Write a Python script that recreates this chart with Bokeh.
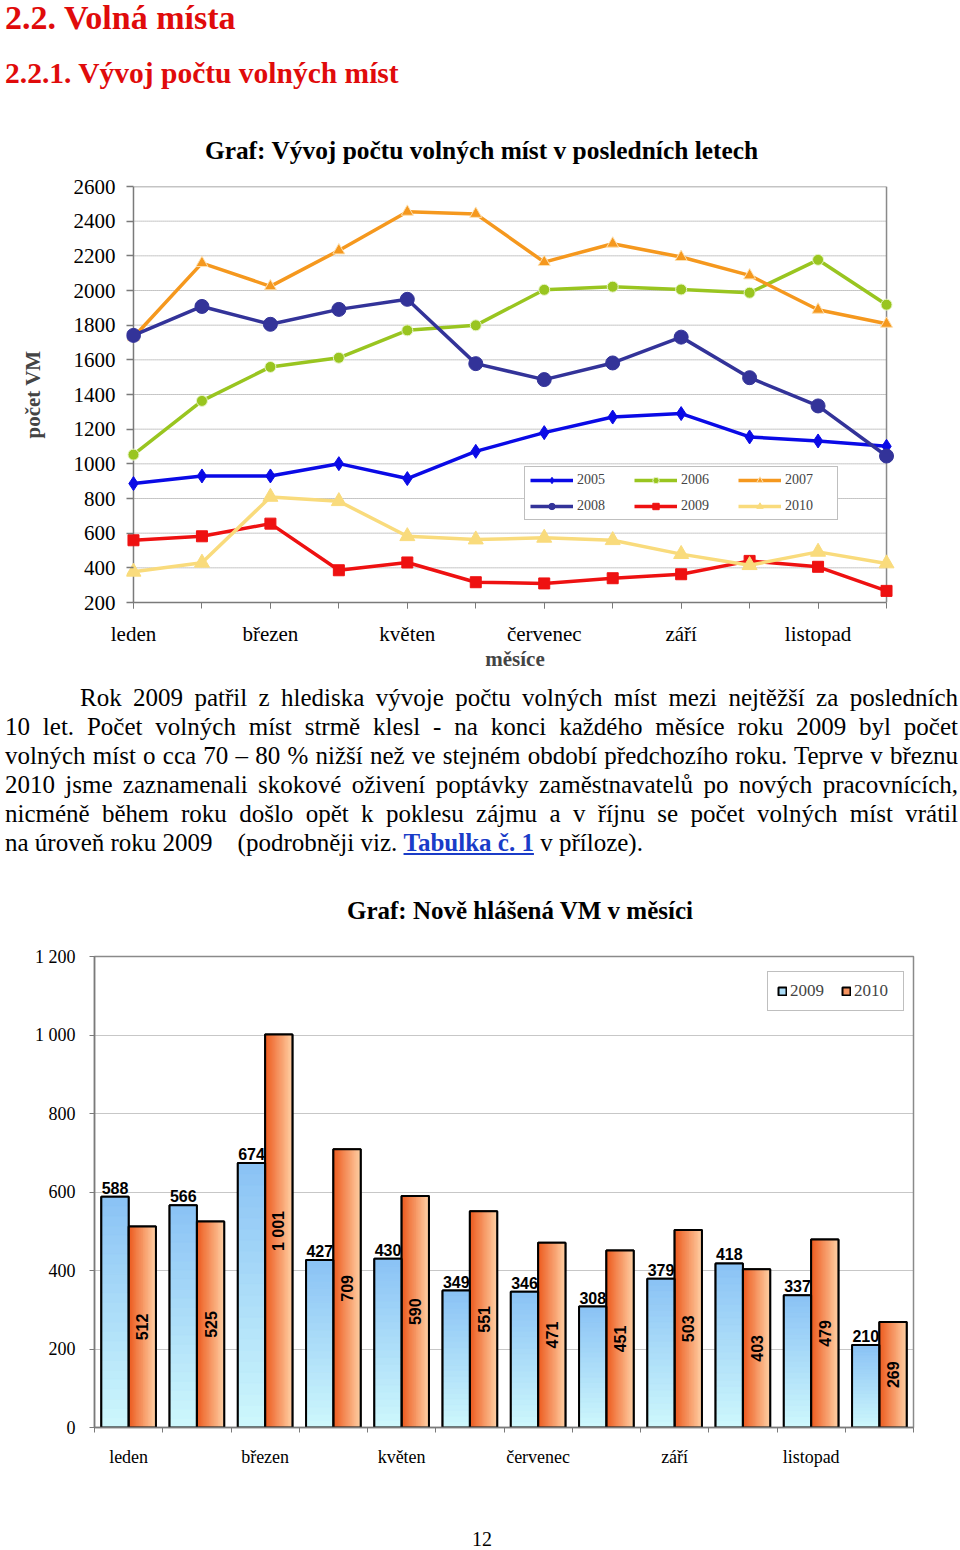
import numpy as np
from bokeh.plotting import figure
from bokeh.models import Range1d, FixedTicker, Legend, LegendItem, Div
from bokeh.layouts import column
from bokeh.core.properties import value
from bokeh.embed import file_html
from bokeh.resources import INLINE

# ---------------- data ----------------
months = ["leden", "únor", "březen", "duben", "květen", "červen",
          "červenec", "srpen", "září", "říjen", "listopad", "prosinec"]

y2005 = [886, 930, 930, 1001, 915, 1072, 1180, 1270, 1290, 1155, 1132, 1101]
y2006 = [1053, 1363, 1559, 1612, 1770, 1799, 2004, 2022, 2006, 1987, 2177, 1918]
y2007 = [1730, 2158, 2024, 2231, 2454, 2442, 2164, 2270, 2193, 2087, 1889, 1808]
y2008 = [1741, 1908, 1805, 1891, 1949, 1578, 1486, 1582, 1731, 1497, 1334, 1045]
y2009 = [559, 582, 655, 386, 431, 317, 310, 340, 363, 440, 406, 267]
y2010 = [377, 429, 809, 784, 582, 563, 573, 559, 479, 415, 492, 425]
line_ticks = [200, 400, 600, 800, 1000, 1200, 1400, 1600, 1800, 2000, 2200, 2400, 2600]

new2009 = [588, 566, 674, 427, 430, 349, 346, 308, 379, 418, 337, 210]
new2010 = [512, 525, 1001, 709, 590, 551, 471, 451, 503, 403, 479, 269]
bar_ticks = [0, 200, 400, 600, 800, 1000, 1200]

SERIF = "Liberation Serif"
SANS = "Liberation Sans"
AXIS_GRAY = "#7a7a7a"

# ---------------- line chart ----------------
n = len(months)
xs = list(range(n))
x_start = -0.102
x_end = (n - 1) + 0.248

p1 = figure(width=960, height=504, x_range=Range1d(x_start, x_end),
            y_range=Range1d(line_ticks[0], line_ticks[-1]),
            output_backend="svg", toolbar_location=None, frame_align=False,
            min_border_left=126, min_border_right=57,
            min_border_top=14, min_border_bottom=74)
p1.outline_line_color = None
p1.xgrid.visible = False
p1.ygrid.visible = False
p1.background_fill_color = "white"
p1.border_fill_color = "white"

gv = line_ticks[1:-1]
p1.segment(x0=[xs[0]] * len(gv), x1=[xs[-1]] * len(gv), y0=gv, y1=gv,
           line_color="#8f8f8f", line_dash="1 1", line_width=1)
# frame: top border, right border, left axis line
p1.segment(x0=[xs[0]], x1=[xs[-1]], y0=[line_ticks[-1]], y1=[line_ticks[-1]],
           line_color="#8a8a8a", line_width=1.5)
p1.segment(x0=[xs[-1]], x1=[xs[-1]], y0=[line_ticks[0]], y1=[line_ticks[-1]],
           line_color="#8a8a8a", line_width=1.5)
p1.segment(x0=[xs[0]], x1=[xs[0]], y0=[line_ticks[0]], y1=[line_ticks[-1]],
           line_color=AXIS_GRAY, line_width=1.5)

series = [
    ("2005", y2005, "#0a0ae6", "diamond", 14, None),
    ("2006", y2006, "#99c520", "circle", 11, "#e8f5c8"),
    ("2007", y2007, "#f5981e", "triangle", 12, "#fde0b0"),
    ("2008", y2008, "#333399", "circle", 14, None),
    ("2009", y2009, "#ee1111", "square", 11, None),
    ("2010", y2010, "#f9db7c", "triangle", 15, None),
]
items = []
for name, ys, col, mk, sz, lc in series:
    r_line = p1.line(xs, ys, line_color=col, line_width=3.5, line_join="round")
    r_mk = p1.scatter(xs, ys, marker=mk, size=sz, fill_color=col,
                      line_color=lc if lc else col, line_width=1)
    items.append(LegendItem(label=name, renderers=[r_line, r_mk]))

leg1 = Legend(items=items, orientation="horizontal", ncols=3,
              location=(398, 82), glyph_width=43, glyph_height=16,
              label_height=16, label_width=47, label_standoff=4,
              spacing=10, padding=5, margin=0,
              border_line_color="#7f7f7f", border_line_width=1,
              background_fill_color="white", background_fill_alpha=1,
              label_text_font=SERIF, label_text_font_size="14px")
p1.add_layout(leg1)

ya = p1.yaxis[0]
ya.ticker = FixedTicker(ticks=line_ticks)
ya.major_label_text_font = SERIF
ya.major_label_text_font_size = "21px"
ya.major_label_text_color = "black"
ya.major_tick_out = 0
ya.major_tick_in = 7
ya.minor_tick_out = 0
ya.minor_tick_in = 0
ya.major_label_standoff = 11
ya.axis_line_color = None
ya.major_tick_line_color = AXIS_GRAY
ya.major_tick_line_width = 1.5
ya.axis_label = "počet VM"
ya.axis_label_text_font = SERIF
ya.axis_label_text_font_style = "bold"
ya.axis_label_text_font_size = "21px"
ya.axis_label_standoff = 26

xa = p1.xaxis[0]
xa.bounds = (xs[0], xs[-1])
xa.ticker = FixedTicker(ticks=xs[::2], minor_ticks=xs)
xa.major_label_overrides = {i: months[i] for i in xs[::2]}
xa.major_label_text_font = SERIF
xa.major_label_text_font_size = "21px"
xa.major_label_text_color = "black"
xa.major_tick_out = 6
xa.major_tick_in = 0
xa.minor_tick_out = 6
xa.minor_tick_in = 0
xa.major_label_standoff = 13
xa.axis_line_color = AXIS_GRAY
xa.axis_line_width = 1.5
xa.major_tick_line_color = AXIS_GRAY
xa.minor_tick_line_color = AXIS_GRAY
xa.axis_label = "měsíce"
xa.axis_label_text_font = SERIF
xa.axis_label_text_font_style = "bold"
xa.axis_label_text_font_size = "21px"
xa.axis_label_standoff = -2

# ---------------- bar chart ----------------
p2 = figure(width=960, height=540, x_range=Range1d(0, n),
            y_range=Range1d(bar_ticks[0], bar_ticks[-1]),
            output_backend="svg", toolbar_location=None, frame_align=False,
            min_border_left=94, min_border_right=47,
            min_border_top=21, min_border_bottom=48)
p2.outline_line_color = "#8a8a8a"
p2.outline_line_width = 1.5
p2.xgrid.visible = False
p2.ygrid.ticker = FixedTicker(ticks=bar_ticks[1:-1])
p2.ygrid.grid_line_color = "#8f8f8f"
p2.ygrid.grid_line_dash = "1 1"
p2.background_fill_color = "white"
p2.border_fill_color = "white"

BW = 0.4
cat = np.arange(n)
left09 = cat + 0.5 - BW
left10 = cat + 0.5


def mix(c0, c1, t):
    return "#%02x%02x%02x" % tuple(int(round(a + (b - a) * t)) for a, b in zip(c0, c1))


blue_bot, blue_top = (206, 248, 252), (138, 194, 245)
or_left, or_right = (236, 88, 28), (255, 208, 165)
NS = 24

r_b09 = p2.quad(left=left09, right=left09 + BW, bottom=0, top=new2009,
                fill_color=mix(blue_bot, blue_top, 0.5), line_color="black", line_width=2)
r_b10 = p2.quad(left=left10, right=left10 + BW, bottom=0, top=new2010,
                fill_color=mix(or_left, or_right, 0.5), line_color="black", line_width=2)

sl, sr, sb, stp, sc = [], [], [], [], []
for i, v in enumerate(new2009):
    for k in range(NS):
        sl.append(left09[i]); sr.append(left09[i] + BW)
        sb.append(v * k / NS); stp.append(v * (k + 1) / NS)
        sc.append(mix(blue_bot, blue_top, (k + 0.5) / NS))
for i, v in enumerate(new2010):
    for k in range(NS):
        sl.append(left10[i] + BW * k / NS); sr.append(left10[i] + BW * (k + 1) / NS)
        sb.append(0); stp.append(v)
        sc.append(mix(or_left, or_right, (k + 0.5) / NS))
p2.quad(left=sl, right=sr, bottom=sb, top=stp, fill_color=sc, line_color=sc, line_width=0.8)

p2.quad(left=left09, right=left09 + BW, bottom=0, top=new2009,
        fill_color=None, line_color="black", line_width=2)
p2.quad(left=left10, right=left10 + BW, bottom=0, top=new2010,
        fill_color=None, line_color="black", line_width=2)


def fmt(v):
    return f"{v:,}".replace(",", " ")


p2.text(x=left09 + BW / 2, y=new2009, text=[fmt(v) for v in new2009],
        text_align="center", text_baseline="bottom", y_offset=-3,
        text_font=value(SANS), text_font_style="bold", text_font_size="16px",
        text_color="black")
p2.text(x=left10 + BW / 2, y=[v / 2 for v in new2010], text=[fmt(v) for v in new2010],
        angle=np.pi / 2, text_align="center", text_baseline="middle",
        text_font=value(SANS), text_font_style="bold", text_font_size="16px",
        text_color="black")

leg2 = Legend(items=[LegendItem(label="2009", renderers=[r_b09]),
                     LegendItem(label="2010", renderers=[r_b10])],
              orientation="horizontal", location=(673, 416),
              glyph_width=10, glyph_height=10, label_height=20, label_width=40,
              label_standoff=3, spacing=11, padding=9, margin=0,
              border_line_color="#7f7f7f", border_line_width=1,
              background_fill_color="white", background_fill_alpha=1,
              label_text_font=SERIF, label_text_font_size="17px")
p2.add_layout(leg2)

ya2 = p2.yaxis[0]
ya2.ticker = FixedTicker(ticks=bar_ticks)
ya2.major_label_overrides = {t: fmt(t) for t in bar_ticks}
ya2.major_label_text_font = SERIF
ya2.major_label_text_font_size = "18px"
ya2.major_label_text_color = "black"
ya2.major_tick_out = 5
ya2.major_tick_in = 0
ya2.minor_tick_out = 0
ya2.minor_tick_in = 0
ya2.major_label_standoff = 14
ya2.axis_line_color = AXIS_GRAY
ya2.axis_line_width = 1.5
ya2.major_tick_line_color = AXIS_GRAY

xa2 = p2.xaxis[0]
centers = [c + 0.5 for c in range(0, n, 2)]
xa2.ticker = FixedTicker(ticks=centers, minor_ticks=list(range(n + 1)))
xa2.major_label_overrides = {c: months[int(c)] for c in centers}
xa2.major_label_text_font = SERIF
xa2.major_label_text_font_size = "18px"
xa2.major_label_text_color = "black"
xa2.major_tick_out = 0
xa2.major_tick_in = 0
xa2.minor_tick_out = 5
xa2.minor_tick_in = 0
xa2.major_label_standoff = 14
xa2.axis_line_color = AXIS_GRAY
xa2.axis_line_width = 1.5
xa2.minor_tick_line_color = AXIS_GRAY

# ---------------- text blocks ----------------
RED = "#e00b0b"
divA_html = f"""
<div style="position:relative;width:960px;height:172px;font-family:'{SERIF}';">
 <div style="position:absolute;left:5px;top:1px;font-size:34px;line-height:34px;font-weight:bold;color:{RED};white-space:nowrap;">2.2. Volná místa</div>
 <div style="position:absolute;left:5px;top:59px;font-size:29.5px;line-height:29.5px;font-weight:bold;color:{RED};white-space:nowrap;">2.2.1. Vývoj počtu volných míst</div>
 <div style="position:absolute;left:0px;top:138px;width:963px;text-align:center;font-size:25.4px;line-height:25px;font-weight:bold;color:black;white-space:nowrap;">Graf: Vývoj počtu volných míst v posledních letech</div>
</div>
"""

para_lines = [
    "Rok 2009 patřil z hlediska vývoje počtu volných míst mezi nejtěžší za posledních",
    "10 let. Počet volných míst strmě klesl - na konci každého měsíce roku 2009 byl počet",
    "volných míst o cca 70 – 80 % nižší než ve stejném období předchozího roku. Teprve v březnu",
    "2010 jsme zaznamenali skokové oživení poptávky zaměstnavatelů po nových pracovnících,",
    "nicméně během roku došlo opět k poklesu zájmu a v říjnu se počet volných míst vrátil",
]
last_line = ('na úroveň roku 2009&nbsp;&nbsp;&nbsp; (podrobněji viz. '
             '<span style="color:#1a3cc8;font-weight:bold;text-decoration:underline;">Tabulka č. 1</span>'
             ' v příloze).')
rows = []
for i, t in enumerate(para_lines):
    pad = "padding-left:75px;" if i == 0 else ""
    rows.append(f'<div style="{pad}text-align:justify;text-align-last:justify;white-space:nowrap;">{t}</div>')
rows.append(f'<div style="text-align:left;white-space:nowrap;">{last_line}</div>')
divB_html = f"""
<div style="position:relative;width:960px;height:259px;font-family:'{SERIF}';color:black;">
 <div style="position:absolute;left:5px;top:7px;width:953px;font-size:25px;line-height:29px;">
  {''.join(rows)}
 </div>
 <div style="position:absolute;left:120px;top:222px;width:800px;text-align:center;font-size:25px;line-height:25px;font-weight:bold;white-space:nowrap;">Graf: Nově hlášená VM v měsíci</div>
</div>
"""

divC_html = f"""
<div style="position:relative;width:960px;height:74px;font-family:'{SERIF}';color:black;">
 <div style="position:absolute;left:0px;top:54px;width:964px;text-align:center;font-size:20px;line-height:20px;">12</div>
</div>
"""

divA = Div(text=divA_html, width=960, height=172, margin=0)
divB = Div(text=divB_html, width=960, height=259, margin=0)
divC = Div(text=divC_html, width=960, height=74, margin=0)

layout = column(divA, p1, divB, p2, divC, spacing=0)
open("out.html", "w").write(file_html(layout, INLINE))
